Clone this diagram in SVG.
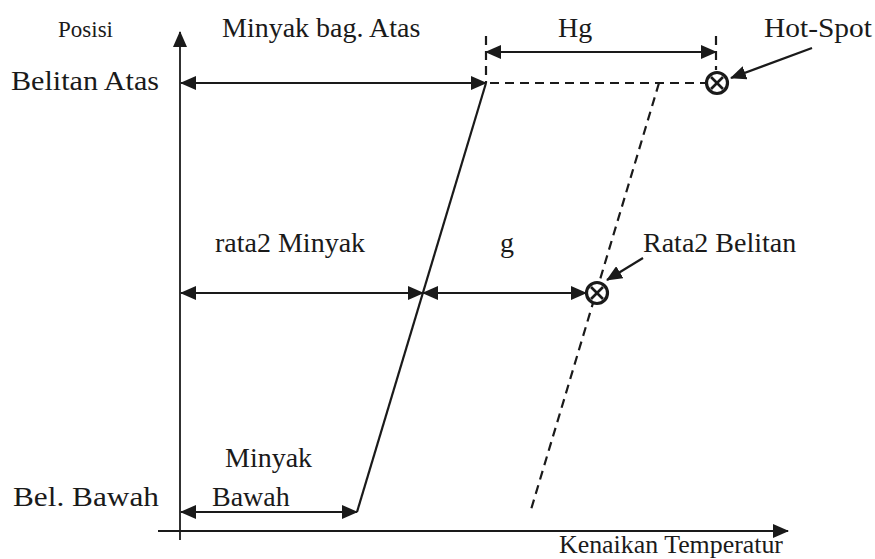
<svg xmlns="http://www.w3.org/2000/svg" width="875" height="559" viewBox="0 0 875 559">
<style>
.t{font-family:"Liberation Serif","Times New Roman",serif;fill:#1a1a1a;font-size:28px}
.s{font-size:23px}
.k{font-size:25px}
.ln{stroke:#1a1a1a;stroke-width:2.2;fill:none}
.ax{stroke:#1a1a1a;stroke-width:1.8;fill:none}
.da{stroke:#1a1a1a;stroke-width:2.2;fill:none;stroke-dasharray:9 6}
.sym{stroke:#1a1a1a;stroke-width:3.2;fill:#fff}
.x{stroke:#1a1a1a;stroke-width:2.6}
</style>
<defs>
<marker id="ah" markerUnits="userSpaceOnUse" markerWidth="16" markerHeight="14" refX="15" refY="7" orient="auto-start-reverse" viewBox="0 0 16 14">
<path d="M0,0 L16,7 L0,14 z" fill="#1a1a1a"/>
</marker>
</defs>
<rect width="875" height="559" fill="#fff"/>
<g id="connectors">
<line class="ax" x1="180" y1="540" x2="180" y2="32" marker-end="url(#ah)"/>
<line class="ax" x1="158" y1="531" x2="788" y2="531" marker-end="url(#ah)"/>
<line class="ln" x1="181" y1="83" x2="486" y2="83" marker-start="url(#ah)" marker-end="url(#ah)"/>
<line class="ln" x1="486" y1="52" x2="716" y2="52" marker-start="url(#ah)" marker-end="url(#ah)"/>
<line class="da" x1="486" y1="36" x2="486" y2="83"/>
<line class="da" x1="716" y1="36" x2="716" y2="70"/>
<line class="da" x1="490" y1="83" x2="705" y2="83"/>
<line class="ln" x1="486" y1="83" x2="357" y2="512"/>
<line class="da" x1="659" y1="83" x2="530" y2="513"/>
<line class="ln" x1="181" y1="512" x2="357" y2="512" marker-start="url(#ah)" marker-end="url(#ah)"/>
<line class="ln" x1="181" y1="293" x2="423" y2="293" marker-start="url(#ah)" marker-end="url(#ah)"/>
<line class="ln" x1="423" y1="293" x2="586" y2="293" marker-start="url(#ah)" marker-end="url(#ah)"/>
<line class="ln" x1="812" y1="48" x2="731" y2="78" marker-end="url(#ah)"/>
<line class="ln" x1="643" y1="258" x2="607" y2="280" marker-end="url(#ah)"/>
</g>
<g id="hotspot">
<circle class="sym" cx="717" cy="83" r="10.5"/>
<line class="x" x1="711" y1="77" x2="723" y2="89"/>
<line class="x" x1="723" y1="77" x2="711" y2="89"/>
</g>
<g id="rata2belitan-point">
<circle class="sym" cx="597" cy="293" r="10.5"/>
<line class="x" x1="591" y1="287" x2="603" y2="299"/>
<line class="x" x1="603" y1="287" x2="591" y2="299"/>
</g>
<g id="labels">
<text class="t s" x="58" y="37">Posisi</text>
<text class="t" x="11" y="90" textLength="148" lengthAdjust="spacingAndGlyphs">Belitan Atas</text>
<text class="t" x="222" y="37">Minyak bag. Atas</text>
<text class="t" x="558" y="37">Hg</text>
<text class="t" x="764" y="37" textLength="108" lengthAdjust="spacingAndGlyphs">Hot-Spot</text>
<text class="t" x="215" y="252">rata2 Minyak</text>
<text class="t" x="500" y="252">g</text>
<text class="t" x="643" y="252">Rata2 Belitan</text>
<text class="t" x="225" y="467">Minyak</text>
<text class="t" x="13" y="506" textLength="146" lengthAdjust="spacingAndGlyphs">Bel. Bawah</text>
<text class="t" x="212" y="506">Bawah</text>
<text class="t k" x="559" y="553" textLength="224" lengthAdjust="spacingAndGlyphs">Kenaikan Temperatur</text>
</g>
</svg>
